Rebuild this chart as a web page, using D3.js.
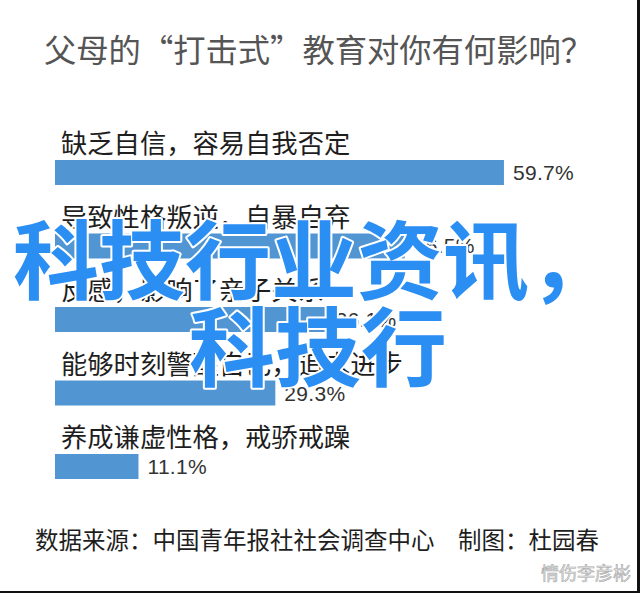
<!DOCTYPE html>
<html><head><meta charset="utf-8">
<script src="https://cdn.jsdelivr.net/npm/d3@7"></script>
<style>html,body{margin:0;padding:0;background:#fff;}svg{display:block;}</style>
</head><body>
<script>
const title = "父母的“打击式”教育对你有何影响？";
const categories = ["缺乏自信，容易自我否定","导致性格叛逆，自暴自弃","反感，影响了亲子关系","能够时刻警醒自己，追求进步","养成谦虚性格，戒骄戒躁"];
const values = [59.7, 46.5, 36.1, 29.3, 11.1];
const valueLabels = ["59.7%","46.5%","36.1%","29.3%","11.1%"];
const source = "数据来源：中国青年报社社会调查中心　制图：杜园春";
const watermark1 = "科技行业资讯，";
const watermark2 = "科技行";
const corner = "情伤李彦彬";

const W = 640, H = 593;
const svg = d3.select("body").append("svg").attr("width", W).attr("height", H);
svg.append("rect").attr("width", W).attr("height", H).attr("fill", "#fff");

const cjk = "'Noto Sans CJK SC', 'Noto Sans', sans-serif";

svg.append("text").attr("x", 44).attr("y", 62).attr("font-family", cjk)
  .attr("font-size", 32.3).attr("fill", "#555").text(title);

const x = d3.scaleLinear().domain([0, 100]).range([55, 807]);
const y = d3.scaleBand().domain(categories).range([160, 479]).paddingInner(0.66).paddingOuter(0);

const g = svg.append("g");
const rows = g.selectAll("g.row").data(categories.map((c, i) => ({c, v: values[i], l: valueLabels[i]})))
  .join("g").attr("class", "row");

rows.append("text").attr("x", 61).attr("y", d => y(d.c) - 7)
  .attr("font-family", cjk).attr("font-size", 26.3).attr("fill", "#1e1e1e").text(d => d.c);

rows.append("rect").attr("x", x(0)).attr("y", d => y(d.c))
  .attr("width", d => x(d.v) - x(0)).attr("height", y.bandwidth()).attr("fill", "#5195d3");

rows.append("text").attr("x", d => x(d.v) + 9).attr("y", d => y(d.c) + y.bandwidth() / 2 + 7.5)
  .attr("font-family", "'Liberation Sans', Arial, sans-serif").attr("font-size", 21)
  .attr("letter-spacing", 0.3).attr("fill", "#333").text(d => d.l);

svg.append("text").attr("x", 35).attr("y", 549).attr("font-family", cjk)
  .attr("font-size", 23.5).attr("fill", "#1e1e1e").text(source);

// watermark overlay
const wm = svg.append("g").attr("font-family", cjk).attr("font-weight", "bold")
  .attr("font-size", 86).attr("fill", "#2b8ef2").attr("stroke", "#fff")
  .attr("stroke-width", 4).attr("paint-order", "stroke").attr("stroke-linejoin", "round");
wm.append("text").attr("x", 13).attr("y", 293).text(watermark1);
wm.append("text").attr("x", 189).attr("y", 380).text(watermark2);

svg.append("text").attr("x", 541).attr("y", 580).attr("font-family", cjk)
  .attr("font-size", 18).attr("fill", "#e6e6e6").attr("stroke", "#aaa").attr("stroke-width", 0.6)
  .text(corner);

svg.append("rect").attr("x", 637).attr("y", 0).attr("width", 3).attr("height", H).attr("fill", "#111");
svg.append("rect").attr("x", 0).attr("y", 591).attr("width", W).attr("height", 2).attr("fill", "#111");
</script>
</body></html>
